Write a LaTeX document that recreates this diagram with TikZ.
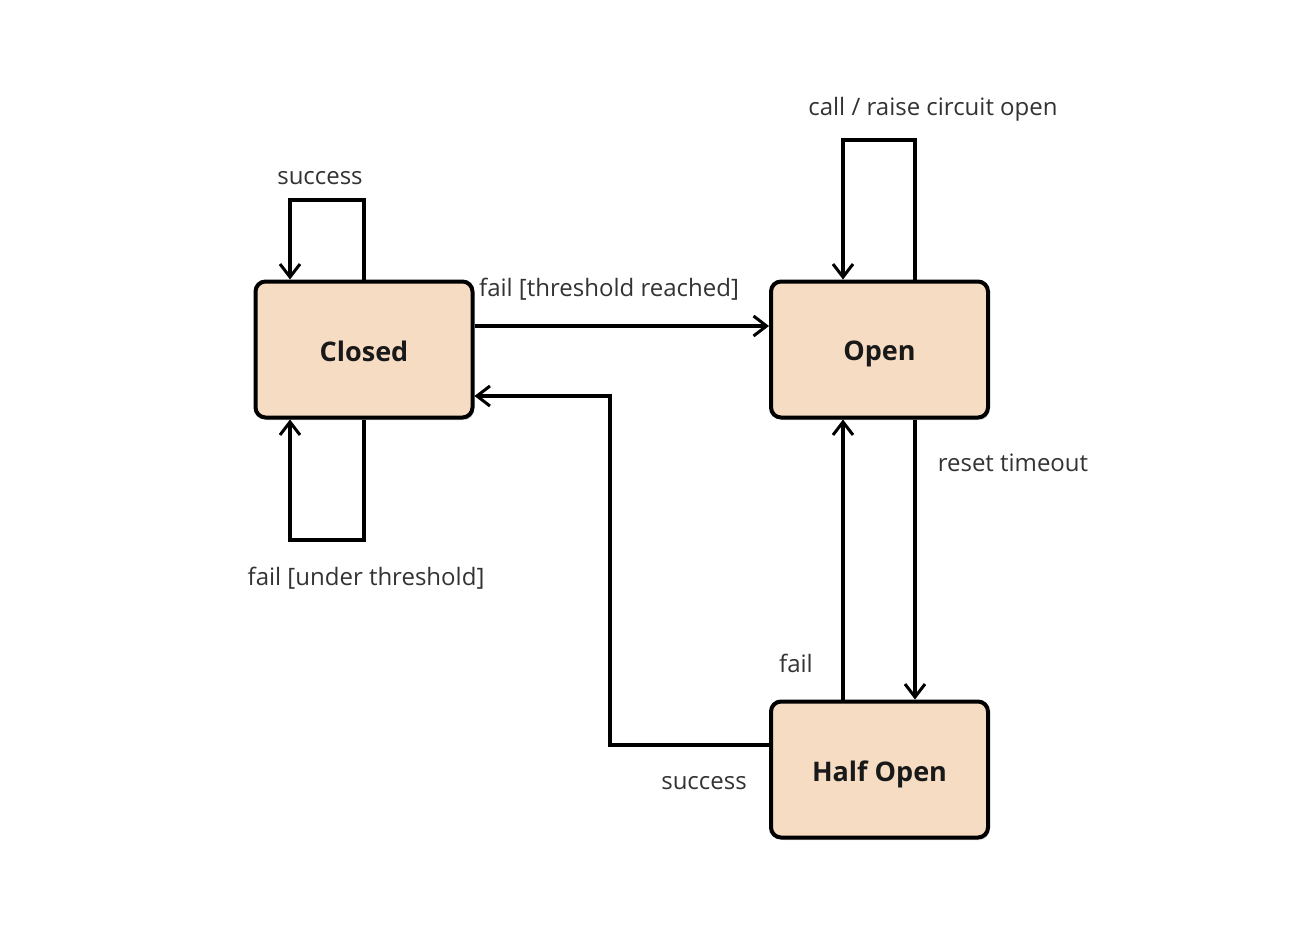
\documentclass[tikz,border=0pt]{standalone}
\usepackage{fontspec}
\setmainfont{Open Sans}
\usetikzlibrary{arrows.meta,shadows}
\definecolor{statefill}{HTML}{F5DCC3}
\definecolor{labeltext}{HTML}{333333}
\tikzset{
  state/.style={draw=black, line width=4pt, rounded corners=10pt, fill=statefill,
    minimum width=217pt, minimum height=136pt, inner sep=0pt,
    font=\fontsize{27}{32}\selectfont\bfseries, text=black!90, text depth=0pt,
    drop shadow={opacity=0.35, shadow xshift=1.5pt, shadow yshift=-2.5pt}},
  trans/.style={line width=3.4pt, -{Straight Barb[length=13pt,width=20pt,line width=3pt]}},
  lbl/.style={font=\fontsize{24}{28}\selectfont, text=labeltext, inner sep=0pt}
}
\begin{document}
\begin{tikzpicture}[x=1pt,y=-1pt]
\useasboundingbox (0,0) rectangle (1296,942);
\fill[white] (0,0) rectangle (1296,942);

% states
\node[state] (closed) at (364,349.5) {\raisebox{-3pt}{Closed}};
\node[state] (open) at (879.5,349.5) {\raisebox{-3pt}{Open}};
\node[state] (half) at (879.5,769.5) {\raisebox{-3pt}{Half Open}};

% bend points of the routed connectors
\coordinate (c1) at (364,200);
\coordinate (c2) at (290,200);
\coordinate (c3) at (364,540);
\coordinate (c4) at (290,540);
\coordinate (o1) at (915,140);
\coordinate (o2) at (843,140);
\coordinate (h1) at (610,745);
\coordinate (h2) at (610,396);

% Closed self loops
\draw[trans] (closed.north -| c1) -- (c1) -- (c2) -- (closed.north -| c2);
\draw[trans] (closed.south -| c3) -- (c3) -- (c4) -- (closed.south -| c4);

% Closed -> Open
\draw[trans] (closed.east |- 0,326) -- (open.west |- 0,326);

% Half Open -> Closed
\draw[trans] (half.west |- h1) -- (h1) -- (h2) -- (closed.east |- h2);

% Open self loop
\draw[trans] (open.north -| o1) -- (o1) -- (o2) -- (open.north -| o2);

% Open -> Half Open and back
\draw[trans] (open.south -| o1) -- (half.north -| o1);
\draw[trans] (half.north -| o2) -- (open.south -| o2);

% labels
\node[lbl] (lsucc) at (320,178) {success};
\node[lbl] (lunder) at (366,578) {fail [under threshold]};
\node[lbl] (lthresh) at (609,289) {fail [threshold reached]};
\node[lbl] (lcall) at (933,109) {call / raise circuit open};
\node[lbl] (lreset) at (1013,463) {reset timeout};
\node[lbl] (lfail) at (796,663) {fail};
\node[lbl] (lsucc2) at (704,783) {success};
\end{tikzpicture}
\end{document}
